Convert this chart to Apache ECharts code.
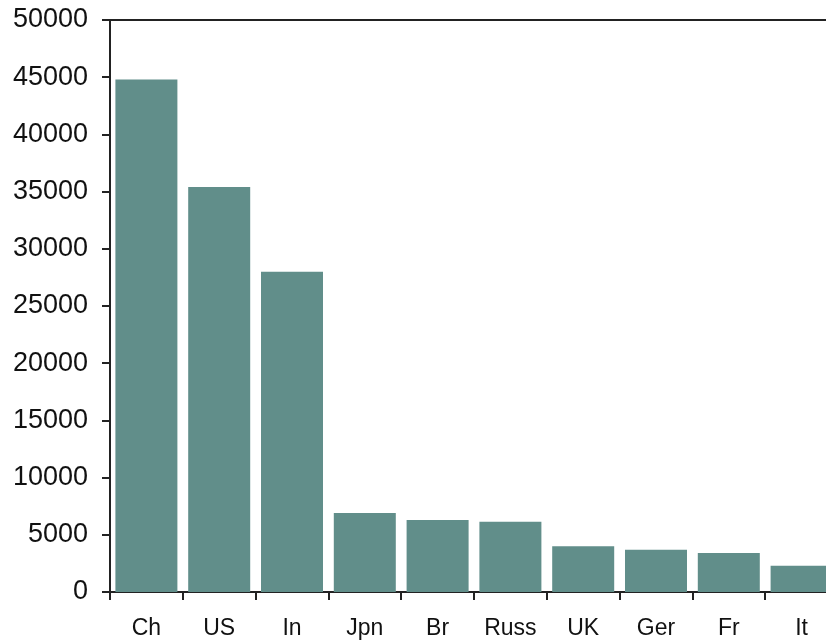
<!DOCTYPE html>
<html>
<head>
<meta charset="utf-8">
<script src="https://cdn.jsdelivr.net/npm/echarts@6/dist/echarts.min.js"></script>
<style>
html,body{margin:0;padding:0;background:#fff;overflow:hidden;}
#main{width:838px;height:640px;}
</style>
</head>
<body>
<div id="main"></div>
<script>
const categories = ['Ch','US','In','Jpn','Br','Russ','UK','Ger','Fr','It'];
const values = [44800, 35400, 28000, 6900, 6300, 6150, 4000, 3700, 3400, 2300];
const yTicks = {min: 0, max: 50000, interval: 5000};

const chart = echarts.init(document.getElementById('main'));
chart.setOption({
  animation: false,
  backgroundColor: '#fff',
  grid: {left: 110, top: 20, right: 0, bottom: 48, containLabel: false},
  xAxis: [{
    type: 'category',
    data: categories,
    position: 'bottom',
    axisLine: {show: true, lineStyle: {color: '#222', width: 2}},
    axisTick: {show: true, length: 8, lineStyle: {color: '#222', width: 2}},
    axisLabel: {color: '#111', fontFamily: 'Liberation Sans, Arial, sans-serif', fontSize: 23, margin: 25},
    splitLine: {show: false}
  }, {
    type: 'category',
    data: categories,
    position: 'top',
    axisLine: {show: true, lineStyle: {color: '#222', width: 2}},
    axisTick: {show: false},
    axisLabel: {show: false},
    splitLine: {show: false}
  }],
  yAxis: {
    type: 'value',
    min: yTicks.min, max: yTicks.max, interval: yTicks.interval,
    axisLine: {show: true, lineStyle: {color: '#222', width: 2}},
    axisTick: {show: true, length: 8, lineStyle: {color: '#222', width: 2}},
    axisLabel: {color: '#111', fontFamily: 'Liberation Sans, Arial, sans-serif', fontSize: 27, margin: 22,
      formatter: function (v) { return String(v); }},
    splitLine: {show: false}
  },
  series: [{
    type: 'bar',
    data: values,
    xAxisIndex: 0,
    barWidth: 62,
    itemStyle: {color: '#618e8a'}
  }]
});
</script>
</body>
</html>
